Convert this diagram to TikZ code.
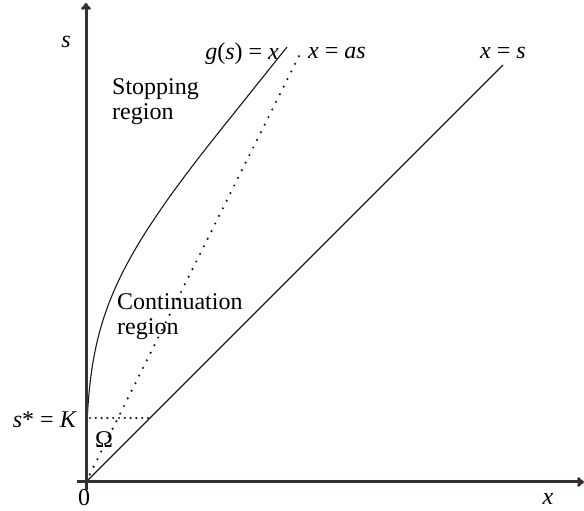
\documentclass[tikz,border=0pt]{standalone}
\usepackage{fontspec}
\setmainfont{Liberation Serif}
\usetikzlibrary{arrows.meta}
\definecolor{axiscol}{RGB}{55,45,55}
\begin{document}
\begin{tikzpicture}[x=1pt,y=1pt,
  axisline/.style={line width=3pt,draw=axiscol,-{To[length=7pt,width=10pt]}},
  thinline/.style={line width=1.1pt,draw=black!90},
  dots/.style={line width=2.4pt,line cap=round,draw=black!90,dash pattern=on 0pt off #1},
  lbl/.style={font=\fontsize{24}{26}\selectfont,inner sep=0pt}]
\useasboundingbox (-86,-29) rectangle (498,482);
\coordinate (O) at (0,0);
\coordinate (xs) at (-9,0);
\coordinate (xe) at (498,0);
\coordinate (ys) at (0,-8);
\coordinate (ye) at (0,479);
\coordinate (sline) at (417,417);
\coordinate (asline) at (216,432);
\coordinate (kl) at (4,64);
\coordinate (kr) at (64,64);
\coordinate (gmid) at (137,355);
\coordinate (gtop) at (201,435);
% curves
\draw[thinline] (O) -- (sline);
\draw[dots=8.5pt] (O) -- (asline);
\draw[dots=5.8pt] (kl) -- (kr);
\draw[thinline] (O) .. controls (0,150) and (12,199) .. (gmid) -- (gtop);
% axes
\draw[axisline] (xs) -- (xe);
\draw[axisline] (ys) -- (ye);
% labels
\node[lbl] (sl) at (-20,440) {\textit{s}};
\node[lbl] (zero) at (-2,-16) {0};
\node[lbl] (xl) at (462,-17) {\textit{x}};
\node[lbl,anchor=east] (kk) at (-9,62) {\textit{s}* = \textit{K}};
\node[lbl] (om) at (18,42) {Ω};
\node[lbl,anchor=east] (gl) at (193,428) {\textit{g}(\textit{s}) = \textit{x}};
\node[lbl,anchor=west] (asl) at (222,429) {\textit{x} = \textit{as}};
\node[lbl] (sl2) at (417,429) {\textit{x} = \textit{s}};
\node[lbl,anchor=west,align=left,font=\fontsize{24}{25}\selectfont] (stop) at (26,380) {Stopping\\region};
\node[lbl,anchor=west,align=left,font=\fontsize{24}{25}\selectfont] (cont) at (31,165) {Continuation\\region};
\end{tikzpicture}
\end{document}
